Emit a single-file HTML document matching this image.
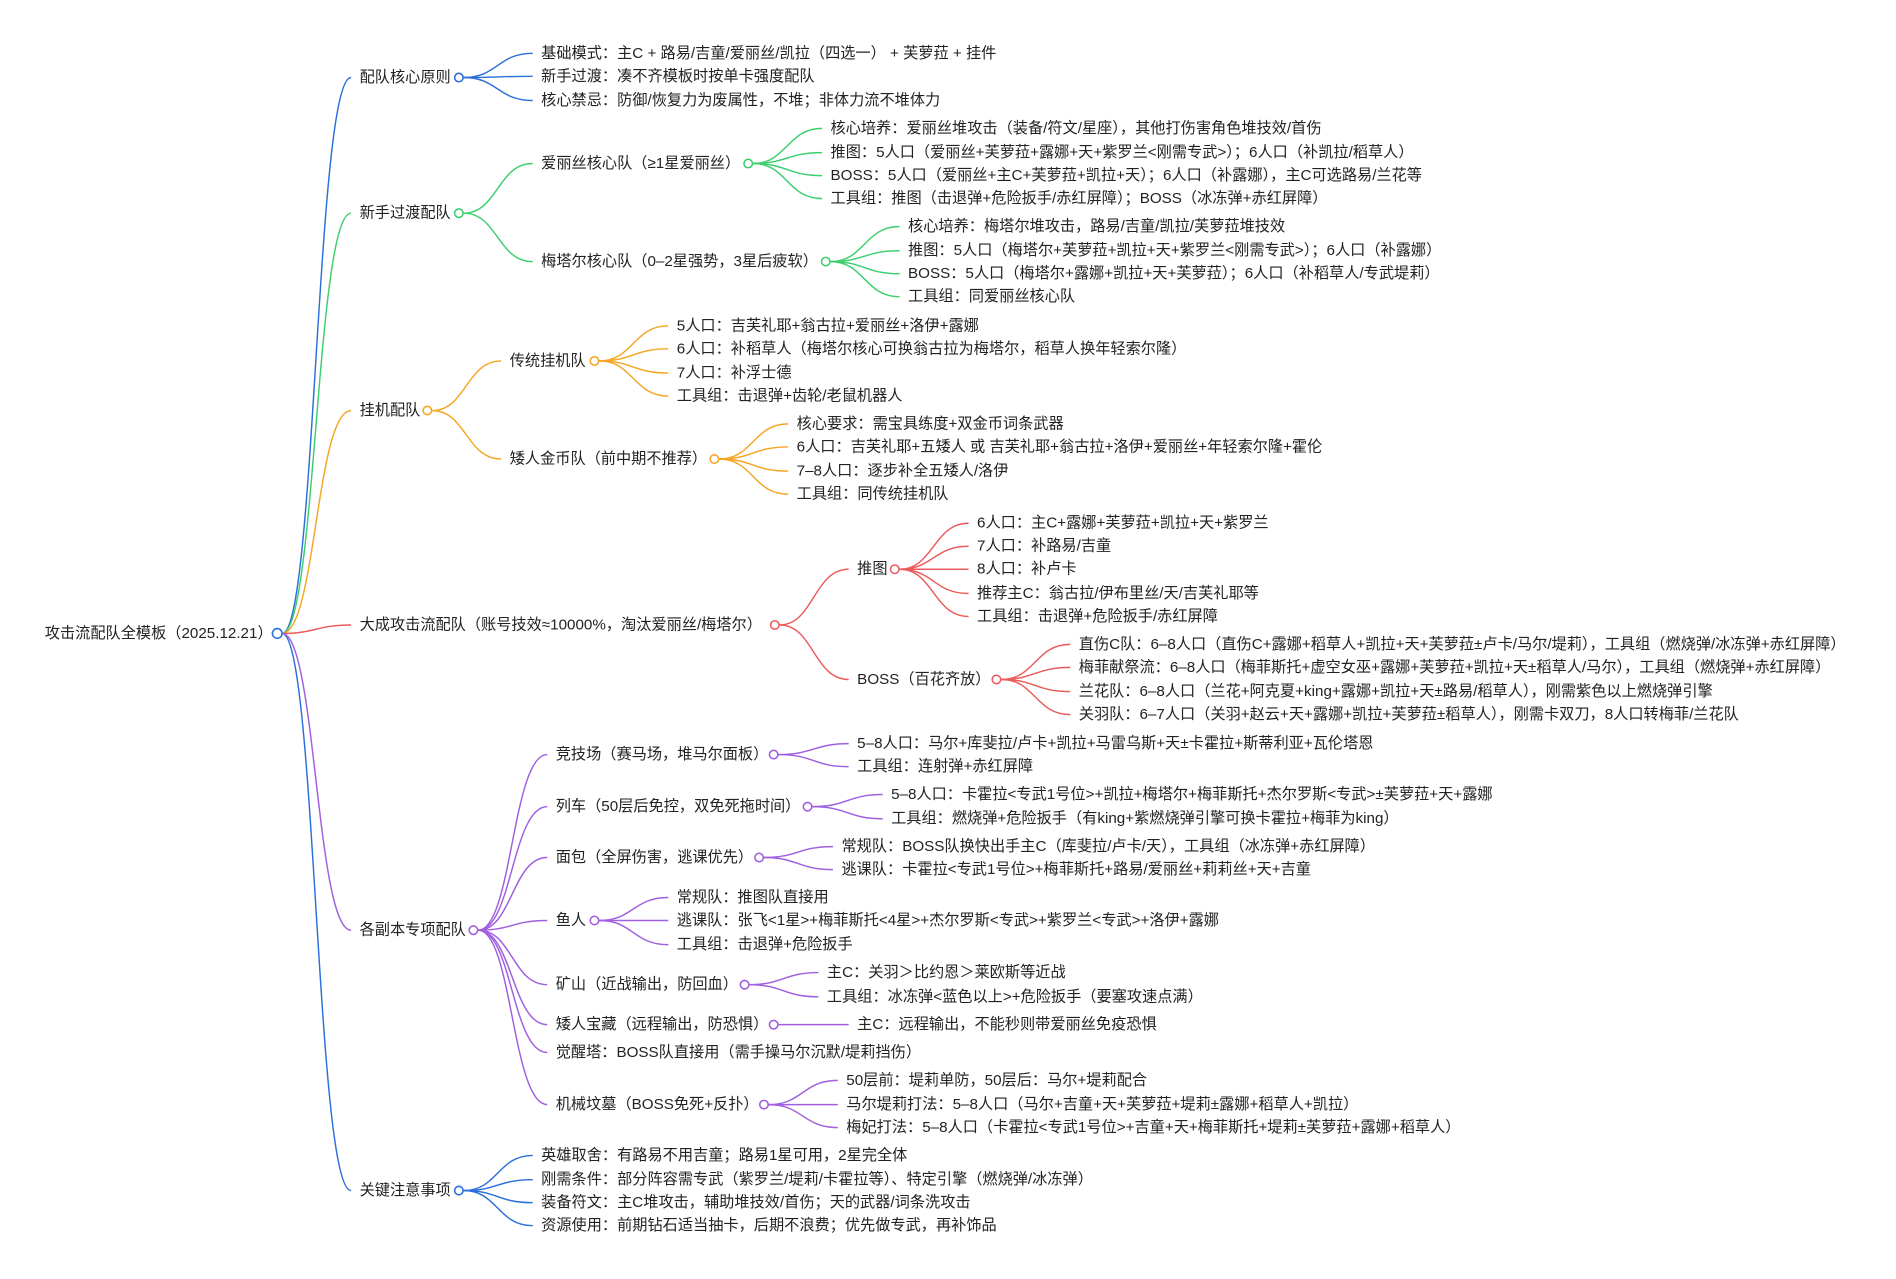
<!DOCTYPE html>
<html><head><meta charset="utf-8"><style>
html,body{margin:0;padding:0;background:#fff;}
svg{display:block;}
text{font-family:"Liberation Sans","Noto Sans CJK SC",sans-serif;font-size:12.55px;fill:#222;dominant-baseline:central;}
path{fill:none;stroke-width:1.2;}
circle{fill:#fff;stroke-width:1.3;}
.b path,.b circle{stroke:#2a6fdb}
.g path,.g circle{stroke:#3ccf6e}
.o path,.o circle{stroke:#f5a623}
.r path,.r circle{stroke:#ec5b5b}
.p path,.p circle{stroke:#a05ee0}
</style></head><body>
<svg width="1896" height="1279" viewBox="0 0 1566 1056" preserveAspectRatio="none" xmlns="http://www.w3.org/2000/svg">
<g class="b"><path d="M233 523 C261 523 261 64 290 64"/><path d="M233 523 C261 523 261 983 290 983"/></g>
<g class="g"><path d="M233 523 C261 523 261 176 290 176"/></g>
<g class="o"><path d="M233 523 C261 523 261 339 290 339"/></g>
<g class="r"><path d="M233 523 C261 523 261 516 290 516"/></g>
<g class="p"><path d="M233 523 C261 523 261 768 290 768"/></g>
<g class="b"><circle cx="229" cy="523" r="4"/></g>
<text x="37" y="523">攻击流配队全模板（2025.12.21）</text>

<g class="b">
<path d="M383 64 C411 64 411 44 440 44"/><path d="M383 64 C411 64 411 63 440 63"/><path d="M383 64 C411 64 411 83 440 83"/>
<circle cx="379" cy="64" r="3.5"/>
</g>
<text x="297" y="64">配队核心原则</text>
<text x="447" y="44">基础模式：主C + 路易/吉童/爱丽丝/凯拉（四选一） + 芙萝菈 + 挂件</text>
<text x="447" y="63">新手过渡：凑不齐模板时按单卡强度配队</text>
<text x="447" y="83">核心禁忌：防御/恢复力为废属性，不堆；非体力流不堆体力</text>

<g class="g">
<path d="M383 176 C411 176 411 135 440 135"/><path d="M383 176 C411 176 411 216 440 216"/>
<path d="M622 135 C650 135 650 106 679 106"/><path d="M622 135 C650 135 650 126 679 126"/><path d="M622 135 C650 135 650 145 679 145"/><path d="M622 135 C650 135 650 164 679 164"/>
<path d="M686 216 C714 216 714 187 743 187"/><path d="M686 216 C714 216 714 207 743 207"/><path d="M686 216 C714 216 714 226 743 226"/><path d="M686 216 C714 216 714 245 743 245"/>
<circle cx="379" cy="176" r="3.5"/><circle cx="618" cy="135" r="3.5"/><circle cx="682" cy="216" r="3.5"/>
</g>
<text x="297" y="176">新手过渡配队</text>
<text x="447" y="135">爱丽丝核心队（≥1星爱丽丝）</text>
<text x="686" y="106">核心培养：爱丽丝堆攻击（装备/符文/星座），其他打伤害角色堆技效/首伤</text>
<text x="686" y="126">推图：5人口（爱丽丝+芙萝菈+露娜+天+紫罗兰&lt;刚需专武&gt;）；6人口（补凯拉/稻草人）</text>
<text x="686" y="145">BOSS：5人口（爱丽丝+主C+芙萝菈+凯拉+天）；6人口（补露娜），主C可选路易/兰花等</text>
<text x="686" y="164">工具组：推图（击退弹+危险扳手/赤红屏障）；BOSS（冰冻弹+赤红屏障）</text>
<text x="447" y="216">梅塔尔核心队（0–2星强势，3星后疲软）</text>
<text x="750" y="187">核心培养：梅塔尔堆攻击，路易/吉童/凯拉/芙萝菈堆技效</text>
<text x="750" y="207">推图：5人口（梅塔尔+芙萝菈+凯拉+天+紫罗兰&lt;刚需专武&gt;）；6人口（补露娜）</text>
<text x="750" y="226">BOSS：5人口（梅塔尔+露娜+凯拉+天+芙萝菈）；6人口（补稻草人/专武堤莉）</text>
<text x="750" y="245">工具组：同爱丽丝核心队</text>

<g class="o">
<path d="M357 339 C385 339 385 298 414 298"/><path d="M357 339 C385 339 385 379 414 379"/>
<path d="M495 298 C523 298 523 269 552 269"/><path d="M495 298 C523 298 523 288 552 288"/><path d="M495 298 C523 298 523 308 552 308"/><path d="M495 298 C523 298 523 327 552 327"/>
<path d="M594 379 C622 379 622 350 651 350"/><path d="M594 379 C622 379 622 369 651 369"/><path d="M594 379 C622 379 622 389 651 389"/><path d="M594 379 C622 379 622 408 651 408"/>
<circle cx="353" cy="339" r="3.5"/><circle cx="491" cy="298" r="3.5"/><circle cx="590" cy="379" r="3.5"/>
</g>
<text x="297" y="339">挂机配队</text>
<text x="421" y="298">传统挂机队</text>
<text x="559" y="269">5人口：吉芙礼耶+翁古拉+爱丽丝+洛伊+露娜</text>
<text x="559" y="288">6人口：补稻草人（梅塔尔核心可换翁古拉为梅塔尔，稻草人换年轻索尔隆）</text>
<text x="559" y="308">7人口：补浮士德</text>
<text x="559" y="327">工具组：击退弹+齿轮/老鼠机器人</text>
<text x="421" y="379">矮人金币队（前中期不推荐）</text>
<text x="658" y="350">核心要求：需宝具练度+双金币词条武器</text>
<text x="658" y="369">6人口：吉芙礼耶+五矮人 或 吉芙礼耶+翁古拉+洛伊+爱丽丝+年轻索尔隆+霍伦</text>
<text x="658" y="389">7–8人口：逐步补全五矮人/洛伊</text>
<text x="658" y="408">工具组：同传统挂机队</text>

<g class="r">
<path d="M644 516 C672 516 672 470 701 470"/><path d="M644 516 C672 516 672 561 701 561"/>
<path d="M743 470 C771 470 771 432 800 432"/><path d="M743 470 C771 470 771 451 800 451"/><path d="M743 470 C771 470 771 470 800 470"/><path d="M743 470 C771 470 771 490 800 490"/><path d="M743 470 C771 470 771 509 800 509"/>
<path d="M827 561 C855 561 855 532 884 532"/><path d="M827 561 C855 561 855 551 884 551"/><path d="M827 561 C855 561 855 571 884 571"/><path d="M827 561 C855 561 855 590 884 590"/>
<circle cx="640" cy="516" r="3.5"/><circle cx="739" cy="470" r="3.5"/><circle cx="823" cy="561" r="3.5"/>
</g>
<text x="297" y="516">大成攻击流配队（账号技效≈10000%，淘汰爱丽丝/梅塔尔）</text>
<text x="708" y="470">推图</text>
<text x="807" y="432">6人口：主C+露娜+芙萝菈+凯拉+天+紫罗兰</text>
<text x="807" y="451">7人口：补路易/吉童</text>
<text x="807" y="470">8人口：补卢卡</text>
<text x="807" y="490">推荐主C：翁古拉/伊布里丝/天/吉芙礼耶等</text>
<text x="807" y="509">工具组：击退弹+危险扳手/赤红屏障</text>
<text x="708" y="561">BOSS（百花齐放）</text>
<text x="891" y="532">直伤C队：6–8人口（直伤C+露娜+稻草人+凯拉+天+芙萝菈±卢卡/马尔/堤莉），工具组（燃烧弹/冰冻弹+赤红屏障）</text>
<text x="891" y="551">梅菲献祭流：6–8人口（梅菲斯托+虚空女巫+露娜+芙萝菈+凯拉+天±稻草人/马尔），工具组（燃烧弹+赤红屏障）</text>
<text x="891" y="571">兰花队：6–8人口（兰花+阿克夏+king+露娜+凯拉+天±路易/稻草人），刚需紫色以上燃烧弹引擎</text>
<text x="891" y="590">关羽队：6–7人口（关羽+赵云+天+露娜+凯拉+芙萝菈±稻草人），刚需卡双刀，8人口转梅菲/兰花队</text>

<g class="p">
<path d="M395 768 C423 768 423 623 452 623"/><path d="M395 768 C423 768 423 666 452 666"/><path d="M395 768 C423 768 423 708 452 708"/><path d="M395 768 C423 768 423 760 452 760"/><path d="M395 768 C423 768 423 813 452 813"/><path d="M395 768 C423 768 423 846 452 846"/><path d="M395 768 C423 768 423 869 452 869"/><path d="M395 768 C423 768 423 912 452 912"/>
<path d="M643 623 C672 623 672 614 701 614"/><path d="M643 623 C672 623 672 633 701 633"/>
<path d="M671 666 C700 666 700 656 729 656"/><path d="M671 666 C700 666 700 676 729 676"/>
<path d="M631 708 C659 708 659 699 688 699"/><path d="M631 708 C659 708 659 718 688 718"/>
<path d="M495 760 C523 760 523 741 552 741"/><path d="M495 760 C523 760 523 760 552 760"/><path d="M495 760 C523 760 523 780 552 780"/>
<path d="M619 813 C647 813 647 803 676 803"/><path d="M619 813 C647 813 647 823 676 823"/>
<path d="M643 846 L701 846"/>
<path d="M635 912 C663 912 663 892 692 892"/><path d="M635 912 C663 912 663 912 692 912"/><path d="M635 912 C663 912 663 931 692 931"/>
<circle cx="391" cy="768" r="3.5"/><circle cx="639" cy="623" r="3.5"/><circle cx="667" cy="666" r="3.5"/><circle cx="627" cy="708" r="3.5"/><circle cx="491" cy="760" r="3.5"/><circle cx="615" cy="813" r="3.5"/><circle cx="639" cy="846" r="3.5"/><circle cx="631" cy="912" r="3.5"/>
</g>
<text x="297" y="768">各副本专项配队</text>
<text x="459" y="623">竞技场（赛马场，堆马尔面板）</text>
<text x="708" y="614">5–8人口：马尔+库斐拉/卢卡+凯拉+马雷乌斯+天±卡霍拉+斯蒂利亚+瓦伦塔恩</text>
<text x="708" y="633">工具组：连射弹+赤红屏障</text>
<text x="459" y="666">列车（50层后免控，双免死拖时间）</text>
<text x="736" y="656">5–8人口：卡霍拉&lt;专武1号位&gt;+凯拉+梅塔尔+梅菲斯托+杰尔罗斯&lt;专武&gt;±芙萝菈+天+露娜</text>
<text x="736" y="676">工具组：燃烧弹+危险扳手（有king+紫燃烧弹引擎可换卡霍拉+梅菲为king）</text>
<text x="459" y="708">面包（全屏伤害，逃课优先）</text>
<text x="695" y="699">常规队：BOSS队换快出手主C（库斐拉/卢卡/天），工具组（冰冻弹+赤红屏障）</text>
<text x="695" y="718">逃课队：卡霍拉&lt;专武1号位&gt;+梅菲斯托+路易/爱丽丝+莉莉丝+天+吉童</text>
<text x="459" y="760">鱼人</text>
<text x="559" y="741">常规队：推图队直接用</text>
<text x="559" y="760">逃课队：张飞&lt;1星&gt;+梅菲斯托&lt;4星&gt;+杰尔罗斯&lt;专武&gt;+紫罗兰&lt;专武&gt;+洛伊+露娜</text>
<text x="559" y="780">工具组：击退弹+危险扳手</text>
<text x="459" y="813">矿山（近战输出，防回血）</text>
<text x="683" y="803">主C：关羽＞比约恩＞莱欧斯等近战</text>
<text x="683" y="823">工具组：冰冻弹&lt;蓝色以上&gt;+危险扳手（要塞攻速点满）</text>
<text x="459" y="846">矮人宝藏（远程输出，防恐惧）</text>
<text x="708" y="846">主C：远程输出，不能秒则带爱丽丝免疫恐惧</text>
<text x="459" y="869">觉醒塔：BOSS队直接用（需手操马尔沉默/堤莉挡伤）</text>
<text x="459" y="912">机械坟墓（BOSS免死+反扑）</text>
<text x="699" y="892">50层前：堤莉单防，50层后：马尔+堤莉配合</text>
<text x="699" y="912">马尔堤莉打法：5–8人口（马尔+吉童+天+芙萝菈+堤莉±露娜+稻草人+凯拉）</text>
<text x="699" y="931">梅妃打法：5–8人口（卡霍拉&lt;专武1号位&gt;+吉童+天+梅菲斯托+堤莉±芙萝菈+露娜+稻草人）</text>

<g class="b">
<path d="M383 983 C411 983 411 954 440 954"/><path d="M383 983 C411 983 411 974 440 974"/><path d="M383 983 C411 983 411 993 440 993"/><path d="M383 983 C411 983 411 1012 440 1012"/>
<circle cx="379" cy="983" r="3.5"/>
</g>
<text x="297" y="983">关键注意事项</text>
<text x="447" y="954">英雄取舍：有路易不用吉童；路易1星可用，2星完全体</text>
<text x="447" y="974">刚需条件：部分阵容需专武（紫罗兰/堤莉/卡霍拉等）、特定引擎（燃烧弹/冰冻弹）</text>
<text x="447" y="993">装备符文：主C堆攻击，辅助堆技效/首伤；天的武器/词条洗攻击</text>
<text x="447" y="1012">资源使用：前期钻石适当抽卡，后期不浪费；优先做专武，再补饰品</text>
</svg>
</body></html>
